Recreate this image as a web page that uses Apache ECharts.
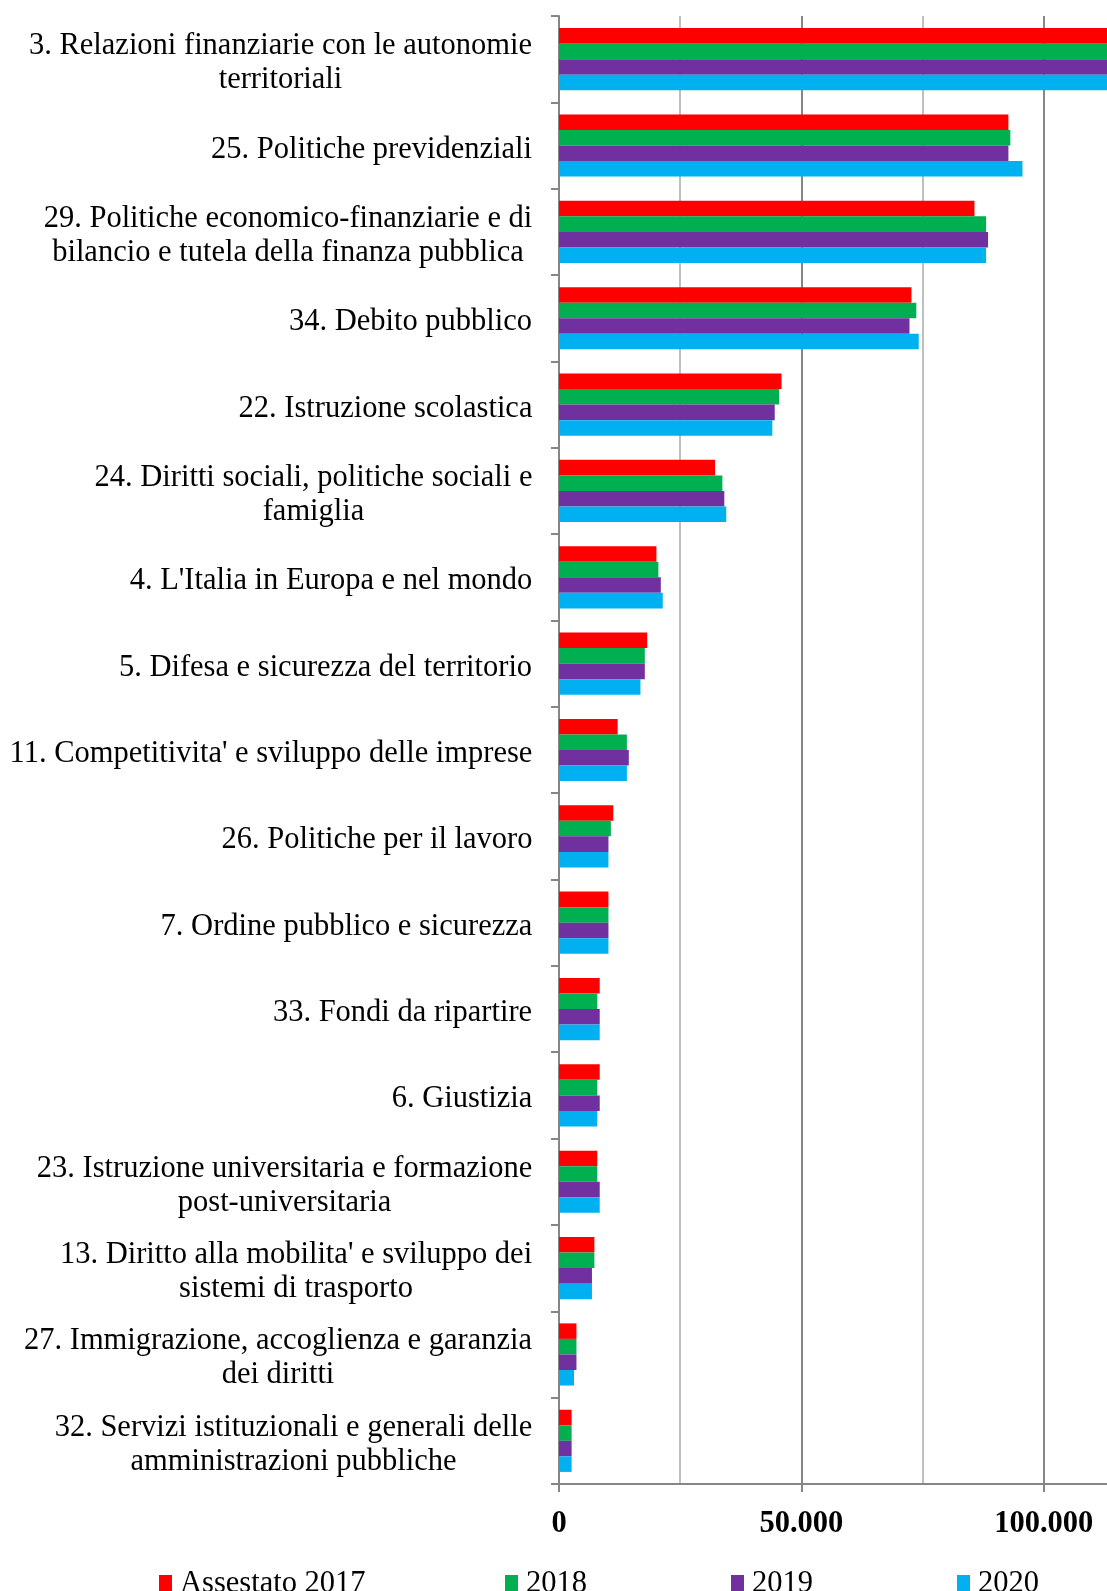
<!DOCTYPE html>
<html>
<head>
<meta charset="utf-8">
<script src="https://cdn.jsdelivr.net/npm/echarts@6/dist/echarts.min.js"></script>
<style>
html,body{margin:0;padding:0;background:#fff;}
#chart{width:1107px;height:1591px;}
</style>
</head>
<body>
<div id="chart"></div>
<script>
const categories = [
  "3. Relazioni finanziarie con le autonomie\nterritoriali",
  "25. Politiche previdenziali",
  "29. Politiche economico-finanziarie e di\nbilancio e tutela della finanza pubblica",
  "34. Debito pubblico",
  "22. Istruzione scolastica",
  "24. Diritti sociali, politiche sociali e\nfamiglia",
  "4. L'Italia in Europa e nel mondo",
  "5. Difesa e sicurezza del territorio",
  "11. Competitivita' e sviluppo delle imprese",
  "26. Politiche per il lavoro",
  "7. Ordine pubblico e sicurezza",
  "33. Fondi da ripartire",
  "6. Giustizia",
  "23. Istruzione universitaria e formazione\npost-universitaria",
  "13. Diritto alla mobilita' e sviluppo dei\nsistemi di trasporto",
  "27. Immigrazione, accoglienza e garanzia\ndei diritti",
  "32. Servizi istituzionali e generali delle\namministrazioni pubbliche"
];
const seriesNames = ["Assestato 2017", "2018", "2019", "2020"];
const values2017 = [116000, 92700, 85700, 72700, 45900, 32200, 20100, 18200, 12100, 11200, 10200, 8400, 8400, 7900, 7300, 3600, 2600];
const values2018 = [116500, 93100, 88100, 73700, 45400, 33700, 20500, 17700, 14000, 10700, 10200, 7900, 7900, 7900, 7300, 3600, 2600];
const values2019 = [117000, 92700, 88500, 72300, 44500, 34100, 21000, 17700, 14400, 10200, 10200, 8400, 8400, 8400, 6800, 3600, 2600];
const values2020 = [118000, 95600, 88100, 74200, 44000, 34500, 21400, 16800, 14000, 10200, 10200, 8400, 7900, 8400, 6800, 3100, 2600];
const xLabelValues = [0, 50000, 100000];

const colors = ["#FF0000", "#00B050", "#7030A0", "#00B0F0"];
const FONT = '"Liberation Serif", "Times New Roman", serif';
const FS = 30.5;

// measure widest line of each label to center multi-line labels
const cv = document.createElement('canvas').getContext('2d');
cv.font = FS + 'px ' + FONT;
const rich = {};
categories.forEach((c, i) => {
  const w = Math.max(...c.split('\n').map(l => cv.measureText(l).width));
  rich['c' + i] = {width: Math.ceil(w) + 1, align: 'center', fontSize: FS, fontFamily: FONT, color: '#000', lineHeight: 34};
});

function fmtNum(v) {
  return String(v).replace(/\B(?=(\d{3})+(?!\d))/g, '.');
}

const allValues = [values2017, values2018, values2019, values2020];
const chart = echarts.init(document.getElementById('chart'), null, {renderer: 'canvas'});
const legends = seriesNames.map((n, i) => ({
  data: [n],
  left: [159, 505, 731, 957][i],
  top: 1568,
  padding: 0,
  icon: 'rect',
  itemWidth: 13,
  itemHeight: 17,
  selectedMode: false,
  textStyle: {fontFamily: FONT, fontSize: FS, color: '#000', padding: [0, 0, 0, 3]}
}));

chart.setOption({
  animation: false,
  color: colors,
  legend: legends,
  grid: {left: 559, top: 16, width: 606, bottom: 107, containLabel: false, outerBoundsMode: 'none'},
  xAxis: [{
    type: 'value',
    position: 'bottom',
    min: 0,
    max: 125000,
    interval: 25000,
    axisLine: {show: true, lineStyle: {color: '#868686', width: 2}},
    axisTick: {show: true, customValues: xLabelValues, length: 8, lineStyle: {color: '#868686', width: 2}},
    axisLabel: {
      customValues: xLabelValues,
      formatter: v => fmtNum(v),
      fontFamily: FONT, fontSize: FS, fontWeight: 'bold', color: '#000', margin: 25
    },
    splitLine: {show: true, lineStyle: {color: '#868686', width: 2}}
  }, {
    type: 'value',
    position: 'top',
    min: 0,
    max: 125000,
    interval: 25000,
    axisLine: {show: false},
    axisTick: {show: false},
    axisLabel: {show: false},
    splitLine: {show: true, lineStyle: {color: ['rgba(0,0,0,0)', '#BFBFBF'], width: 2}}
  }],
  yAxis: {
    type: 'category',
    inverse: true,
    data: categories,
    axisLine: {show: true, lineStyle: {color: '#868686', width: 2}},
    axisTick: {show: true, length: 8, lineStyle: {color: '#868686', width: 2}},
    axisLabel: {
      margin: 26,
      interval: 0,
      padding: [8, 0, 0, 0],
      formatter: (v, idx) => v.split('\n').map(l => '{c' + idx + '|' + l + '}').join('\n'),
      rich: rich,
      fontFamily: FONT, fontSize: FS, color: '#000', lineHeight: 34
    },
    splitLine: {show: false}
  },
  series: seriesNames.map((n, i) => ({
    name: n,
    type: 'bar',
    xAxisIndex: 0,
    data: allValues[i],
    barGap: '0%',
    barCategoryGap: '28%',
    itemStyle: {color: colors[i]}
  }))
});
</script>
</body>
</html>
